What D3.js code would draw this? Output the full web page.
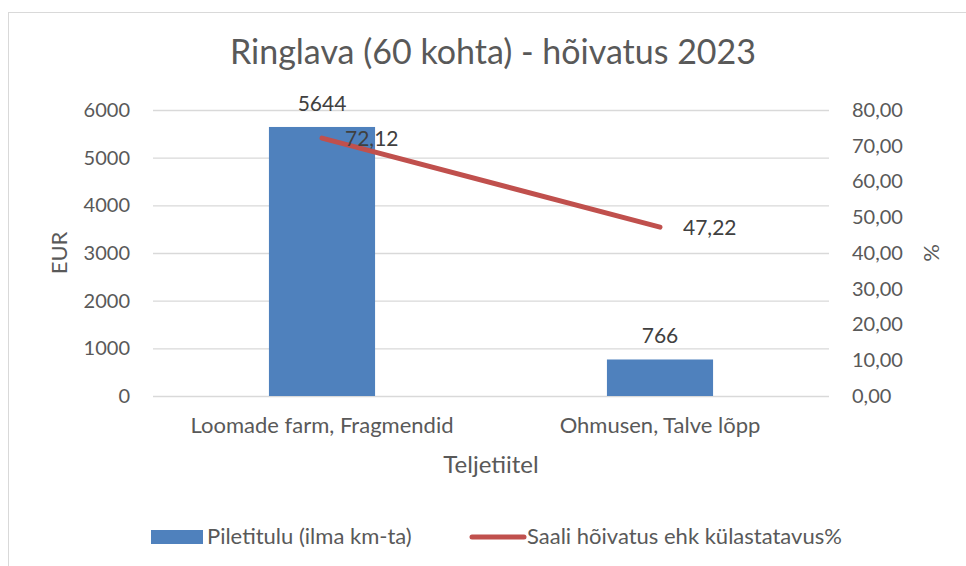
<!DOCTYPE html>
<html lang="et">
<head>
<meta charset="UTF-8">
<title>Ringlava (60 kohta) - hõivatus 2023</title>
<script src="https://d3js.org/d3.v7.min.js"></script>
<style>
  body { margin: 0; background: #fff; }
  svg text { font-family: Lato, "Open Sans", sans-serif; fill: #595959; }
</style>
</head>
<body>
<svg width="966" height="566"></svg>
<script>
// data
const categories = ['Loomade farm, Fragmendid', 'Ohmusen, Talve lõpp'];
const revenue = [5644, 766];          // Piletitulu (ilma km-ta), EUR
const occupancy = [72.12, 47.22];     // Saali hõivatus ehk külastatavus, %
const leftTicks = [0, 1000, 2000, 3000, 4000, 5000, 6000];
const rightTicks = [0, 10, 20, 30, 40, 50, 60, 70, 80];

const svg = d3.select('svg');
const fmt = d => d.toFixed(2).replace('.', ',');

// chart border
svg.append('rect')
    .attr('x', 8.5).attr('y', 12.5)
    .attr('width', 980).attr('height', 600)
    .attr('fill', 'none').attr('stroke', '#d9d9d9');

const plot = { left: 153, right: 829, top: 110, bottom: 396 };

const x = d3.scaleBand().domain(categories).range([plot.left, plot.right]).paddingInner(0.686).paddingOuter(0.343);
const yL = d3.scaleLinear().domain([0, 6000]).range([plot.bottom, plot.top]);
const yR = d3.scaleLinear().domain([0, 80]).range([plot.bottom, plot.top]);

// gridlines
svg.append('g')
    .attr('transform', `translate(${plot.left},0)`)
    .call(d3.axisLeft(yL).tickValues(leftTicks).tickSize(-(plot.right - plot.left)).tickFormat(''))
    .call(g => g.select('.domain').remove())
    .call(g => g.selectAll('line').attr('stroke', '#d9d9d9').attr('stroke-width', 1.3));

// left axis labels
svg.append('g')
    .attr('transform', `translate(${plot.left},0)`)
    .call(d3.axisLeft(yL).tickValues(leftTicks).tickSize(0).tickPadding(23).tickFormat(d3.format('d')))
    .call(g => g.select('.domain').remove())
    .call(g => g.selectAll('text').style('font-size', '20px'));

// right axis labels
svg.append('g')
    .attr('transform', `translate(${plot.right},0)`)
    .call(d3.axisRight(yR).tickValues(rightTicks).tickSize(0).tickPadding(23).tickFormat(fmt))
    .call(g => g.select('.domain').remove())
    .call(g => g.selectAll('text').style('font-size', '20px'));

// category axis
svg.append('g')
    .attr('transform', `translate(0,${plot.bottom})`)
    .call(d3.axisBottom(x).tickSize(0).tickPadding(21))
    .call(g => g.select('.domain').remove())
    .call(g => g.selectAll('text').style('font-size', '22px'));

// bars
svg.selectAll('.bar')
    .data(revenue)
    .enter().append('rect')
    .attr('class', 'bar')
    .attr('x', (d, i) => x(categories[i]))
    .attr('width', x.bandwidth())
    .attr('y', d => yL(d))
    .attr('height', d => yL(0) - yL(d))
    .attr('fill', '#4f81bd');

// bar labels
svg.selectAll('.barlab')
    .data(revenue)
    .enter().append('text')
    .attr('x', (d, i) => x(categories[i]) + x.bandwidth() / 2)
    .attr('y', d => yL(d) - 16)
    .attr('text-anchor', 'middle')
    .style('font-size', '21px').style('fill', '#404040')
    .text(d => d);

// line
const cx = i => x(categories[i]) + x.bandwidth() / 2;
svg.append('path')
    .datum(occupancy)
    .attr('d', d3.line().x((d, i) => cx(i)).y(d => yR(d)))
    .attr('fill', 'none')
    .attr('stroke', '#c0504d')
    .attr('stroke-width', 5)
    .attr('stroke-linecap', 'round');

svg.selectAll('.linelab')
    .data(occupancy)
    .enter().append('text')
    .attr('x', (d, i) => cx(i) + 23)
    .attr('y', d => yR(d) + 8)
    .style('font-size', '21px').style('fill', '#404040')
    .text(fmt);

// title
svg.append('text')
    .attr('x', 493).attr('y', 64)
    .attr('text-anchor', 'middle')
    .style('font-size', '34px')
    .text('Ringlava (60 kohta) - hõivatus 2023');

// axis titles
svg.append('text')
    .attr('transform', 'translate(67,253) rotate(-90)')
    .attr('text-anchor', 'middle')
    .style('font-size', '22px')
    .text('EUR');

svg.append('text')
    .attr('transform', 'translate(939,253) rotate(-90)')
    .attr('text-anchor', 'middle')
    .style('font-size', '22px')
    .text('%');

svg.append('text')
    .attr('x', 491).attr('y', 473)
    .attr('text-anchor', 'middle')
    .style('font-size', '24px')
    .text('Teljetiitel');

// legend
const legend = svg.append('g');
legend.append('rect')
    .attr('x', 151).attr('y', 530).attr('width', 52).attr('height', 14)
    .attr('fill', '#4f81bd');
legend.append('text')
    .attr('x', 207).attr('y', 544)
    .style('font-size', '22px')
    .text('Piletitulu (ilma km-ta)');
legend.append('line')
    .attr('x1', 472).attr('x2', 524).attr('y1', 537).attr('y2', 537)
    .attr('stroke', '#c0504d').attr('stroke-width', 5).attr('stroke-linecap', 'round');
legend.append('text')
    .attr('x', 527).attr('y', 544)
    .style('font-size', '22px')
    .text('Saali hõivatus ehk külastatavus%');
</script>
</body>
</html>
